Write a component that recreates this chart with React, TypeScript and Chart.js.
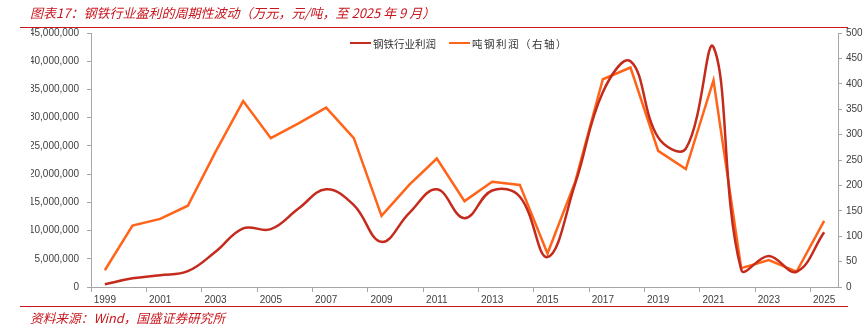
import React, { useEffect, useRef } from "react";
import { Chart, registerables } from "chart.js";

Chart.register(...registerables);

const years: string[] = [
  "1999", "2000", "2001", "2002", "2003", "2004", "2005", "2006", "2007", "2008",
  "2009", "2010", "2011", "2012", "2013", "2014", "2015", "2016", "2017", "2018",
  "2019", "2020", "2021", "2022", "2023", "2024", "2025",
];

// 钢铁行业利润（万元，左轴）
const industryProfit: number[] = [
  480000, 1540000, 2100000, 2800000, 6250000, 10400000, 10250000, 13900000, 17300000, 14500000,
  8000000, 13100000, 17300000, 12200000, 17100000, 16000000, 5300000, 18300000, 34500000, 40000000,
  26500000, 24500000, 42500000, 3100000, 5500000, 2700000, 9700000,
];

// 吨钢利润（元/吨，右轴）
const tonProfit: number[] = [
  33, 121, 134, 160, 266, 366, 293, 322, 353, 293,
  140, 201, 253, 169, 207, 201, 66, 207, 409, 432,
  268, 232, 407, 37, 53, 30, 130,
];

const seriesNames: string[] = ["钢铁行业利润", "吨钢利润（右轴）"];
const titleText = "图表17：钢铁行业盈利的周期性波动（万元，元/吨，至 2025 年 9 月）";
const sourceText = "资料来源：Wind，国盛证券研究所";

const DARK = "#C42B1C";
const ORANGE = "#FF6419";
const AXIS = "#A6A6A6";
const TICK = "#404040";
const RED = "#C8161E";

export default function App() {
  const canvasRef = useRef<HTMLCanvasElement | null>(null);

  useEffect(() => {
    const canvas = canvasRef.current;
    if (!canvas) return;
    const tickFont = { family: "'Liberation Sans', Arial, sans-serif", size: 10 };
    const chart = new Chart(canvas, {
      type: "line",
      data: {
        labels: years,
        datasets: [
          {
            label: seriesNames[0],
            data: industryProfit,
            yAxisID: "y",
            borderColor: DARK,
            backgroundColor: DARK,
            borderWidth: 2.5,
            pointRadius: 0,
            tension: 0.4,
            fill: false,
          },
          {
            label: seriesNames[1],
            data: tonProfit,
            yAxisID: "y1",
            borderColor: ORANGE,
            backgroundColor: ORANGE,
            borderWidth: 2.5,
            pointRadius: 0,
            tension: 0,
            fill: false,
          },
        ],
      },
      options: {
        responsive: false,
        animation: false,
        layout: { padding: { left: 31, right: 0, top: 33, bottom: 28 } },
        plugins: {
          legend: { display: false },
          tooltip: { enabled: false },
        },
        scales: {
          x: {
            type: "category",
            offset: true,
            afterFit: (s: any) => {
              s.height = 20;
            },
            border: { display: true, color: AXIS, width: 1 },
            grid: {
              display: true,
              drawOnChartArea: false,
              drawTicks: true,
              tickLength: 5,
              offset: true,
              color: (ctx: any) =>
                typeof ctx.index === "number" && ctx.index % 2 === 0 ? AXIS : "rgba(0,0,0,0)",
            },
            ticks: {
              autoSkip: false,
              maxRotation: 0,
              minRotation: 0,
              padding: 2,
              color: TICK,
              font: tickFont,
              callback: (_v: any, i: number) => (i % 2 === 0 ? years[i] : ""),
            },
          },
          y: {
            type: "linear",
            position: "left",
            min: 0,
            max: 45000000,
            afterFit: (s: any) => {
              s.width = 60;
            },
            border: { display: true, color: AXIS, width: 1 },
            grid: { drawOnChartArea: false, drawTicks: true, tickLength: 4, color: AXIS },
            ticks: {
              stepSize: 5000000,
              padding: 8,
              color: TICK,
              font: tickFont,
              callback: (v: any) => Number(v).toLocaleString("en-US"),
            },
          },
          y1: {
            type: "linear",
            position: "right",
            min: 0,
            max: 500,
            afterFit: (s: any) => {
              s.width = 28;
            },
            border: { display: true, color: AXIS, width: 1 },
            grid: { drawOnChartArea: false, drawTicks: true, tickLength: 4, color: AXIS },
            ticks: {
              stepSize: 50,
              padding: 4,
              color: TICK,
              font: tickFont,
            },
          },
        },
      },
    });
    return () => chart.destroy();
  }, []);

  const cjk = "'Noto Sans CJK SC', 'Noto Sans', sans-serif";

  return (
    <div
      style={{
        position: "absolute",
        left: 0,
        top: 0,
        width: 866,
        height: 335,
        background: "#ffffff",
        overflow: "hidden",
        fontFamily: cjk,
      }}
    >
      <canvas
        ref={canvasRef}
        width={866}
        height={335}
        style={{ position: "absolute", left: 0, top: 0, width: 866, height: 335 }}
      />
      <div
        style={{
          position: "absolute",
          left: 30,
          top: 4,
          fontSize: 13,
          lineHeight: "17px",
          fontStyle: "italic",
          color: RED,
          whiteSpace: "nowrap",
        }}
      >
        {titleText}
      </div>
      <div style={{ position: "absolute", left: 20, top: 27, width: 828, height: 1, background: RED }} />
      <div style={{ position: "absolute", left: 20, top: 306, width: 828, height: 1, background: RED }} />
      <div
        style={{
          position: "absolute",
          left: 30,
          top: 309,
          fontSize: 12.7,
          lineHeight: "17px",
          fontStyle: "italic",
          color: RED,
          whiteSpace: "nowrap",
        }}
      >
        {sourceText}
      </div>
      <div
        style={{
          position: "absolute",
          left: 350,
          top: 36,
          height: 14,
          display: "flex",
          alignItems: "center",
          fontSize: 10.5,
          color: "#333333",
          whiteSpace: "nowrap",
        }}
      >
        <span style={{ display: "inline-block", width: 21, height: 2.5, background: DARK, marginRight: 2 }} />
        <span>{seriesNames[0]}</span>
        <span style={{ display: "inline-block", width: 21, height: 2.5, background: ORANGE, marginLeft: 13, marginRight: 2 }} />
        <span style={{ letterSpacing: 1.5 }}>{seriesNames[1]}</span>
      </div>
    </div>
  );
}
